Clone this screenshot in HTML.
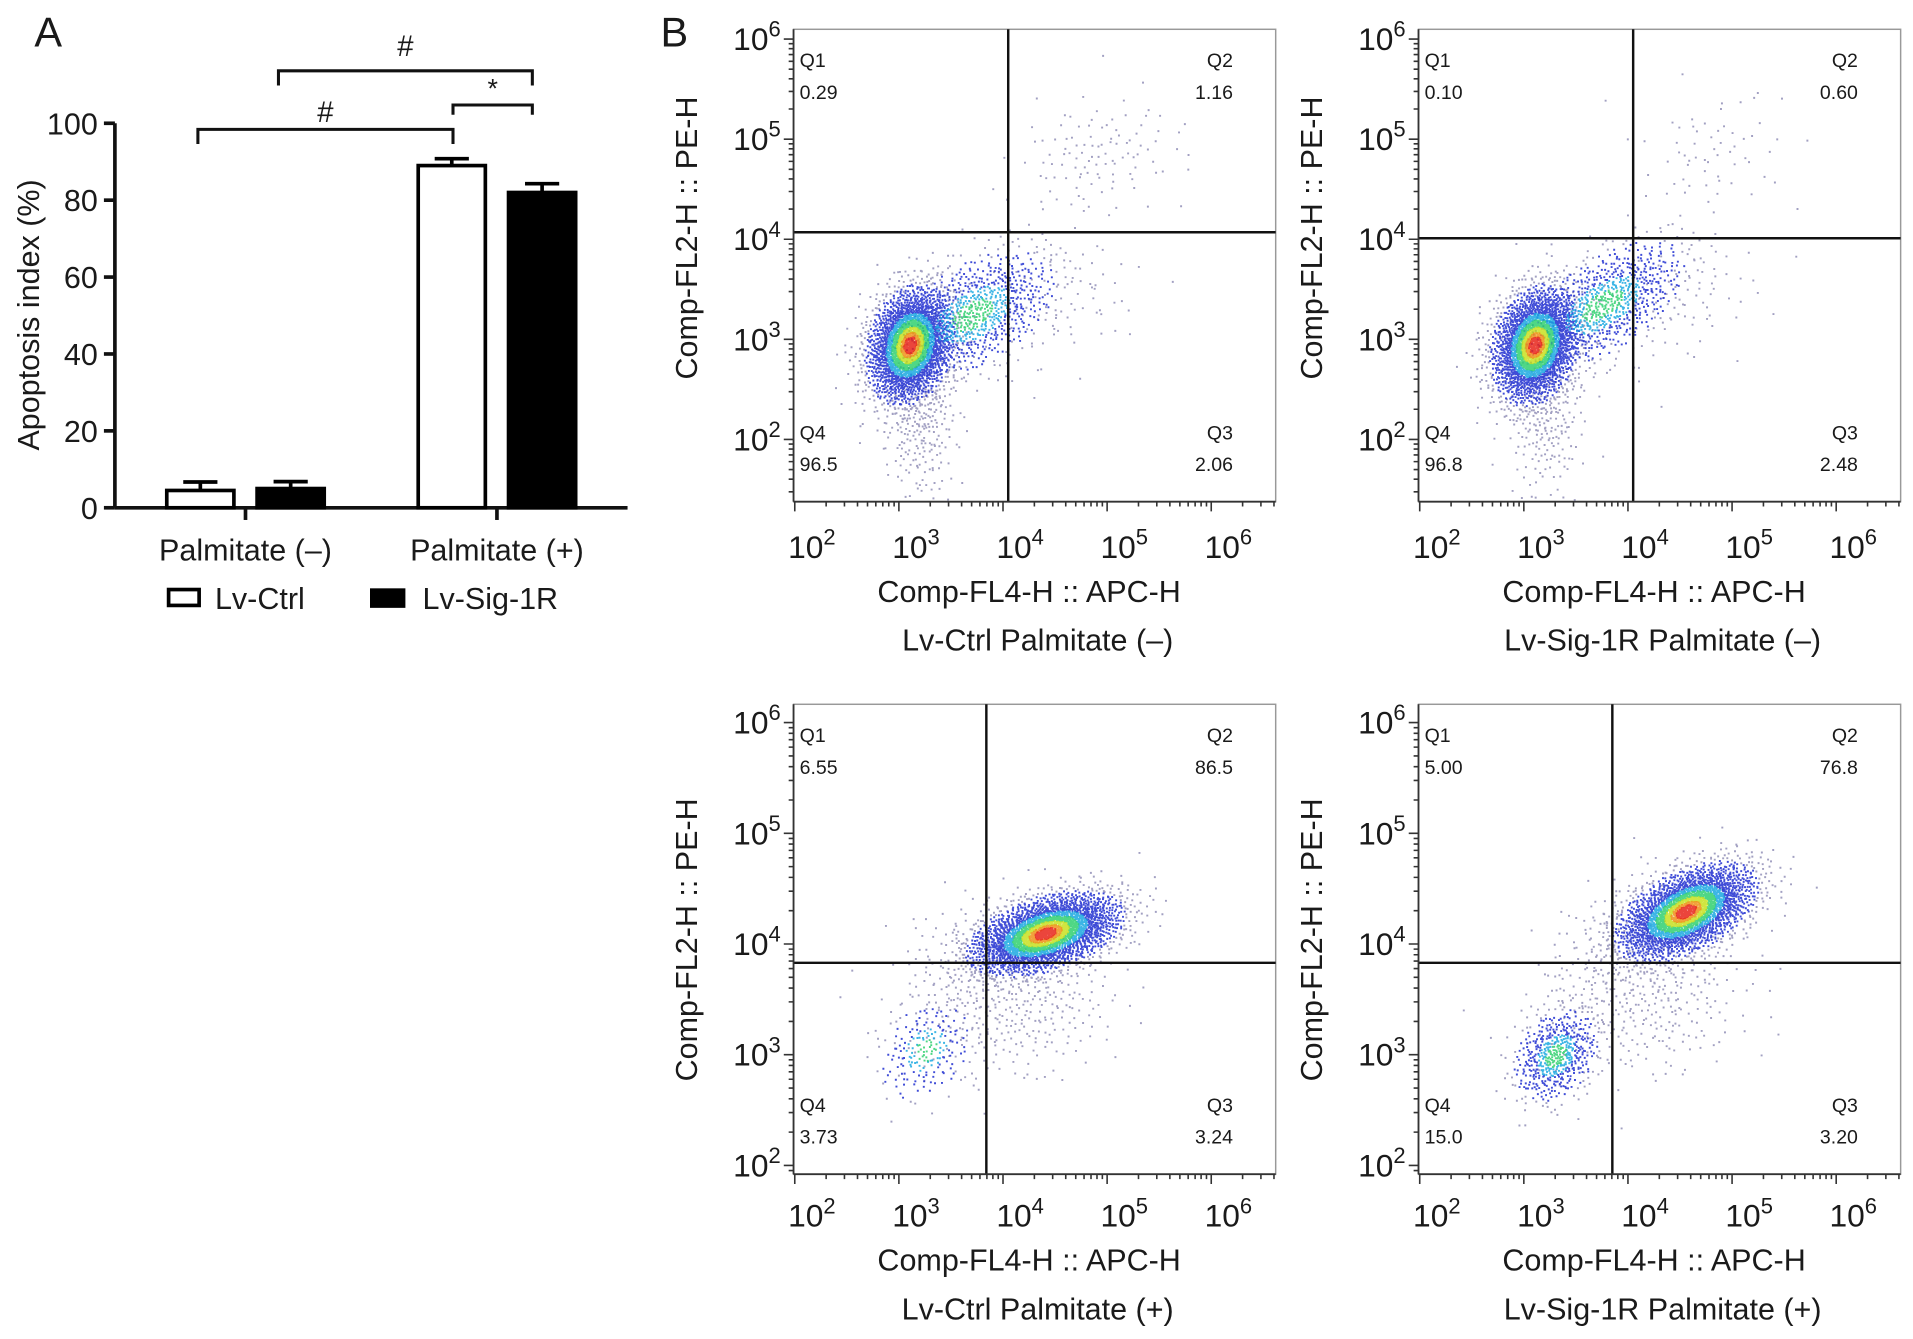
<!DOCTYPE html>
<html><head><meta charset="utf-8"><style>
html,body{margin:0;padding:0;background:#fff}
svg{display:block}
text{font-family:"Liberation Sans",Arial,sans-serif;fill:#1a1a1a}
</style></head><body>
<svg id="fig" width="1913" height="1339" viewBox="0 0 1567 1097" xmlns="http://www.w3.org/2000/svg">
<rect width="1567" height="1097" fill="#fff"/>
<g id="panelA"></g>
<g id="panelB"></g>
</svg>
<script>
// ---------- Panel A data ----------
const groups = ["Palmitate (–)", "Palmitate (+)"];
const seriesNames = ["Lv-Ctrl", "Lv-Sig-1R"];
const ctrlValues = [4.5, 89];
const ctrlErrors = [2.2, 1.8];
const sigValues = [5, 82];
const sigErrors = [1.8, 2.3];
const yTicks = [0, 20, 40, 60, 80, 100];

// ---------- Panel B data ----------
const plotTitles = ["Lv-Ctrl Palmitate (–)", "Lv-Sig-1R Palmitate (–)", "Lv-Ctrl Palmitate (+)", "Lv-Sig-1R Palmitate (+)"];
const q1Values = ["0.29", "0.10", "6.55", "5.00"];
const q2Values = ["1.16", "0.60", "86.5", "76.8"];
const q3Values = ["2.06", "2.48", "3.24", "3.20"];
const q4Values = ["96.5", "96.8", "3.73", "15.0"];
const gateX = [4.05, 4.05, 3.84, 3.85];
const gateY = [4.07, 4.01, 3.83, 3.83];
const decadeTicks = [2, 3, 4, 5, 6];
// clusters: [log10 x, log10 y, sd x, sd y, correlation, count, style: 1 full density, 2 cool only, 0 sparse]
const clusters1 = [[3.1,2.95,0.2,0.28,0.2,2600,1],[3.7,3.25,0.4,0.32,0.5,900,2],[3.2,2.2,0.18,0.4,0,250,0],[4.9,4.85,0.4,0.3,0.2,110,0],[4.4,3.4,0.5,0.35,0.2,90,0]];
const clusters2 = [[3.1,2.95,0.2,0.28,0.2,2600,1],[3.75,3.35,0.4,0.32,0.6,900,2],[3.2,2.2,0.18,0.4,0,200,0],[4.8,4.9,0.35,0.3,0.2,60,0],[4.4,3.4,0.5,0.35,0.2,80,0]];
const clusters3 = [[4.4,4.1,0.35,0.18,0.45,3000,1],[3.25,3.05,0.22,0.22,0.3,200,2],[4.2,3.4,0.45,0.3,0.2,250,0],[3.6,3.7,0.4,0.4,0.3,150,0]];
const clusters4 = [[4.55,4.3,0.32,0.21,0.5,2800,1],[3.3,3.0,0.2,0.21,0.3,550,2],[4.3,3.5,0.45,0.35,0.2,250,0],[3.8,3.8,0.4,0.4,0.4,180,0]];
const allClusters = [clusters1, clusters2, clusters3, clusters4];

const NS = "http://www.w3.org/2000/svg";
function el(tag, attrs, parent, txt){
  const e = document.createElementNS(NS, tag);
  for (const k in attrs) e.setAttribute(k, attrs[k]);
  if (txt !== undefined) e.textContent = txt;
  parent.appendChild(e); return e;
}

// ---------- Panel A ----------
const A = document.getElementById("panelA");
const ax0 = 94, ay0 = 416, ayTop = 101, axRight = 514;
function yA(v){ return ay0 - v * (ay0 - ayTop) / 100; }
const groupCenters = [201, 407];
const barW = 58;

let t = el("text", {x:28, y:38, "font-size":34}, A, "A");
 
let yl = el("line", {x1:ax0, y1:ayTop, x2:ax0, y2:ay0, stroke:"#111", "stroke-width":3}, A);
 
let xl = el("line", {x1:ax0, y1:ay0, x2:axRight, y2:ay0, stroke:"#111", "stroke-width":3}, A);
 
yTicks.forEach(v => {
  const tk = el("line", {x1:ax0-9, y1:yA(v), x2:ax0, y2:yA(v), stroke:"#111", "stroke-width":3}, A);
   
  const lb = el("text", {x:ax0-14, y:yA(v)+9, "font-size":25, "text-anchor":"end"}, A, String(v));
   
});
let yt = el("text", {x:0, y:0, "font-size":25, "text-anchor":"middle", transform:"translate(32,258) rotate(-90)"}, A, "Apoptosis index (%)");
 

groups.forEach((g, i) => {
  const cx = groupCenters[i];
  const gt = el("line", {x1:cx, y1:ay0, x2:cx, y2:ay0+10, stroke:"#111", "stroke-width":3}, A);
   
  const gl = el("text", {x:cx, y:459, "font-size":25, "text-anchor":"middle"}, A, g);
   
  [[ctrlValues, ctrlErrors, "#fff", -1, "ctrl"], [sigValues, sigErrors, "#000", 1, "sig"]].forEach(s => {
    const v = s[0][i], e = s[1][i];
    const bx = s[3] < 0 ? cx - 66 : cx + 8;
    const b = el("rect", {x:bx+1.5, y:yA(v), width:barW-3, height:ay0-yA(v), fill:s[2], stroke:"#000", "stroke-width":3}, A);
     
    const mid = bx + barW/2;
    const eb = el("line", {x1:mid, y1:yA(v), x2:mid, y2:yA(v+e), stroke:"#000", "stroke-width":3}, A);
     
    const cap = el("line", {x1:mid-14, y1:yA(v+e), x2:mid+14, y2:yA(v+e), stroke:"#000", "stroke-width":3}, A);
     
  });
});
// significance brackets: [x1,x2,yTop,drop,label,labelY]
const brackets = [[162,371,106,12,"#",100],[228,436,58,12,"#",46],[371,436,86,8,"*",80]];
brackets.forEach(b => {
  const p = el("path", {d:`M${b[0]},${b[2]+b[3]} V${b[2]} H${b[1]} V${b[2]+b[3]}`, fill:"none", stroke:"#111", "stroke-width":2.5}, A);
   
  const s = el("text", {x:(b[0]+b[1])/2, y:b[5], "font-size":b[4]==="*"?22:24, "text-anchor":"middle"}, A, b[4]);
   
});
// legend
let lg = el("g", {}, A);
 
let l1 = el("rect", {x:138, y:483, width:25, height:13, fill:"#fff", stroke:"#000", "stroke-width":3}, lg);
 
let l1t = el("text", {x:176, y:499, "font-size":25}, lg, seriesNames[0]);
 
let l2 = el("rect", {x:303, y:482, width:29, height:16, fill:"#000"}, lg);
 
let l2t = el("text", {x:346, y:499, "font-size":25}, lg, seriesNames[1]);
 

// ---------- Panel B ----------
const B = document.getElementById("panelB");
let bt = el("text", {x:541, y:38, "font-size":34}, B, "B");
 

function halton(i, b){ let f=1, r=0; while(i>0){ f/=b; r+=f*(i%b); i=Math.floor(i/b);} return r; }
const layouts = [
  {ox:0, boxTop:24, boxBot:411, y6:32, dec:82, tickY:457, titleY:493, subY:533, ytitleY:195},
  {ox:512, boxTop:24, boxBot:411, y6:32, dec:82, tickY:457, titleY:493, subY:533, ytitleY:195},
  {ox:0, boxTop:577, boxBot:962, y6:592, dec:90.7, tickY:1005, titleY:1041, subY:1081, ytitleY:770},
  {ox:512, boxTop:577, boxBot:962, y6:592, dec:90.7, tickY:1005, titleY:1041, subY:1081, ytitleY:770}
];
const x2px = 651, xdec = 85.3, boxL = 650, boxR = 1045;
function supText(parent, x, y, exp, name){
  const tx = el("text", {x:x, y:y, "font-size":26, "text-anchor":"middle"}, parent);
   
  el("tspan", {}, tx, "10"); el("tspan", {dy:-11, "font-size":18}, tx, String(exp));
}
layouts.forEach((L, p) => {
  const g = el("g", {}, B);
   
  const X = v => L.ox + x2px + (v - 2) * xdec;
  const Y = v => L.y6 + (6 - v) * L.dec;
  const cid = "clip" + p;
  const cp = el("clipPath", {id:cid}, g);
  el("rect", {x:L.ox+boxL, y:L.boxTop, width:boxR-boxL, height:L.boxBot-L.boxTop}, cp);
  const frame = el("rect", {x:L.ox+boxL, y:L.boxTop, width:boxR-boxL, height:L.boxBot-L.boxTop, fill:"#fff", stroke:"#999", "stroke-width":1.2}, g);
   
  const dots = el("g", {"clip-path":`url(#${cid})`}, g);
   
  const layers = [[], [], [], [], [], [], []];
  const cols = ["#7a78a8", "#1e2ed0", "#1aa8e0", "#30d070", "#c8e020", "#f0901a", "#e8241a"];
  let idx = 1 + p*5000;
  allClusters[p].forEach(c => {
    for (let k=0; k<c[5]; k++, idx++){
      const u1 = Math.max(halton(idx,2), 1e-4), u2 = halton(idx,3);
      const rr = Math.sqrt(-2*Math.log(u1));
      const z1 = rr*Math.cos(2*Math.PI*u2), z2 = rr*Math.sin(2*Math.PI*u2);
      const zx = z1, zy = c[4]*z1 + Math.sqrt(1-c[4]*c[4])*z2;
      const lx = c[0] + c[2]*zx, ly = c[1] + c[3]*zy;
      let lay;
      if (!c[6]) lay = 0;
      else {
        const d = rr;
        lay = d<0.3?6:d<0.45?5:d<0.65?4:d<0.9?3:d<1.15?2:d<2.2?1:0;
        if (c[6] === 2) lay = d<0.5?3:d<0.9?2:d<2.0?1:0;
      }
      layers[lay].push([X(lx), Y(ly)]);
    }
  });
  layers.forEach((pts, li) => {
    let d = "";
    pts.forEach(q => { d += `M${q[0].toFixed(1)},${q[1].toFixed(1)}h1.6v1.6h-1.6z`; });
    const path = el("path", {d:d, fill:cols[li], "fill-opacity":li===0?0.7:0.85}, dots);
     
  });
  const gv = el("line", {x1:X(gateX[p]), y1:L.boxTop, x2:X(gateX[p]), y2:L.boxBot, stroke:"#111", "stroke-width":2}, g);
   
  const gh = el("line", {x1:L.ox+boxL, y1:Y(gateY[p]), x2:L.ox+boxR, y2:Y(gateY[p]), stroke:"#111", "stroke-width":2}, g);
   
  const axl = el("line", {x1:L.ox+boxL, y1:L.boxTop, x2:L.ox+boxL, y2:L.boxBot, stroke:"#333", "stroke-width":1.5}, g);
   
  const axb = el("line", {x1:L.ox+boxL, y1:L.boxBot, x2:L.ox+boxR, y2:L.boxBot, stroke:"#333", "stroke-width":1.5}, g);
   
  let td = "";
  for (let dcd=1; dcd<=6; dcd++){
    for (let m=1; m<10; m++){
      const v = dcd + Math.log10(m);
      const len = m===1?8:4;
      const yy = Y(v); if (yy>=L.boxTop-1 && yy<=L.boxBot) td += `M${L.ox+boxL},${yy.toFixed(1)}h-${len}`;
      const xx = X(v); if (xx>=L.ox+boxL && xx<=L.ox+boxR) td += `M${xx.toFixed(1)},${L.boxBot}v${len}`;
    }
  }
  const tp = el("path", {d:td, stroke:"#333", "stroke-width":1.3, fill:"none"}, g);
   
  decadeTicks.forEach(e => {
    supText(g, L.ox + boxL - 30, Y(e)+9, e, 'y-tick-label');
    supText(g, X(e)+14, L.tickY, e, 'x-tick-label');
  });
  const yt2 = el("text", {x:0, y:0, "font-size":25, "text-anchor":"middle", transform:`translate(${L.ox+571},${L.ytitleY}) rotate(-90)`}, g, "Comp-FL2-H :: PE-H");
   
  const xt2 = el("text", {x:L.ox+843, y:L.titleY, "font-size":25, "text-anchor":"middle"}, g, "Comp-FL4-H :: APC-H");
   
  const st = el("text", {x:L.ox+850, y:L.subY, "font-size":25, "text-anchor":"middle"}, g, plotTitles[p]);
   
  const qL = L.ox + 655, qR = L.ox + 1010, qT = L.boxTop + 31, qB = L.boxBot - 51;
  const ql = [["Q1", q1Values[p], qL, qT, "start"], ["Q2", q2Values[p], qR, qT, "end"], ["Q4", q4Values[p], qL, qB, "start"], ["Q3", q3Values[p], qR, qB, "end"]];
  ql.forEach(q => {
    const a = el("text", {x:q[2], y:q[3], "font-size":16, fill:"#444", "text-anchor":q[4]}, g, q[0]);
     
    const b = el("text", {x:q[2], y:q[3]+26, "font-size":16, fill:"#444", "text-anchor":q[4]}, g, q[1]);
     
  });
});
</script>
</body></html>
